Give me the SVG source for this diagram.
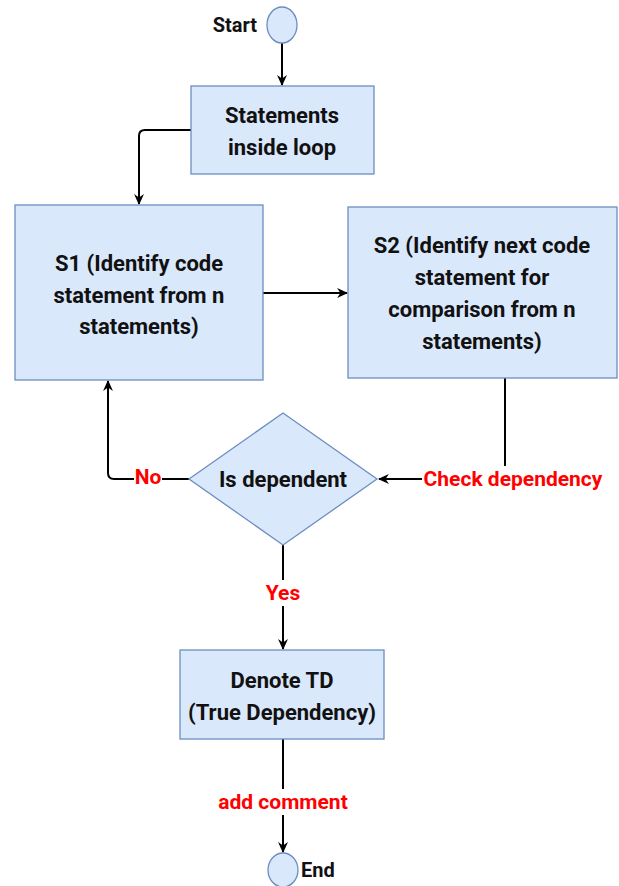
<svg xmlns="http://www.w3.org/2000/svg" width="619" height="886" viewBox="0 0 619 886">
  <style>
    .node { fill: #dae8fc; stroke: #6c8ebf; stroke-width: 1.3; }
    .txt { font-family: Roboto, "Liberation Sans", sans-serif; font-weight: 700; font-size: 22px; fill: #111; text-anchor: middle; dominant-baseline: central; }
    .lbl { font-family: Roboto, "Liberation Sans", sans-serif; font-weight: 700; font-size: 21px; fill: #ff0000; text-anchor: middle; dominant-baseline: central; }
    .edge { fill: none; stroke: #000; stroke-width: 2; }
    .bg { fill: #fff; }
  </style>
  <defs>
    <marker id="arrow" viewBox="0 0 10 10" refX="9" refY="5" markerWidth="11" markerHeight="11" orient="auto" markerUnits="userSpaceOnUse">
      <path d="M0,0.5 L10,5 L0,9.5 L3,5 z" fill="#000"/>
    </marker>
  </defs>

  <!-- connectors -->
  <g id="connectors">
    <path class="edge" d="M282,43 V85" marker-end="url(#arrow)"/>
    <path class="edge" d="M191,130 H145 Q139,130 139,136 V204" marker-end="url(#arrow)"/>
    <path class="edge" d="M263,293 H347" marker-end="url(#arrow)"/>
    <path class="edge" d="M505,378 V479 H379" marker-end="url(#arrow)"/>
    <path class="edge" d="M189,479 H114 Q108,479 108,473 V381" marker-end="url(#arrow)"/>
    <path class="edge" d="M283,545 V649" marker-end="url(#arrow)"/>
    <path class="edge" d="M283,739 V852" marker-end="url(#arrow)"/>
    <!-- edge labels -->
    <rect class="bg" x="422" y="466" width="184" height="26"/>
    <text class="lbl" x="513" y="479">Check dependency</text>
    <rect class="bg" x="134" y="466" width="28" height="26"/>
    <text class="lbl" x="148" y="477">No</text>
    <rect class="bg" x="264" y="580" width="38" height="26"/>
    <text class="lbl" x="283" y="593">Yes</text>
    <rect class="bg" x="214" y="789" width="138" height="26"/>
    <text class="lbl" x="283" y="802">add comment</text>
  </g>

  <g id="start">
    <ellipse class="node" cx="282" cy="25" rx="15" ry="18"/>
    <text class="txt" x="257" y="25" style="text-anchor:end;font-size:20px">Start</text>
  </g>

  <g id="statements">
    <rect class="node" x="191" y="86" width="183" height="88"/>
    <text class="txt" x="282" y="115">Statements</text>
    <text class="txt" x="282" y="147">inside loop</text>
  </g>

  <g id="s1">
    <rect class="node" x="15" y="205" width="248" height="175"/>
    <text class="txt" x="139" y="263">S1 (Identify code</text>
    <text class="txt" x="139" y="295">statement from n</text>
    <text class="txt" x="139" y="326">statements)</text>
  </g>

  <g id="s2">
    <rect class="node" x="348" y="207" width="269" height="171"/>
    <text class="txt" x="482" y="245">S2 (Identify next code</text>
    <text class="txt" x="482" y="277">statement for</text>
    <text class="txt" x="482" y="309">comparison from n</text>
    <text class="txt" x="482" y="341">statements)</text>
  </g>

  <g id="is-dependent">
    <polygon class="node" points="283,413 377,479 283,545 189,479"/>
    <text class="txt" x="283" y="479">Is dependent</text>
  </g>

  <g id="denote-td">
    <rect class="node" x="180" y="650" width="204" height="89"/>
    <text class="txt" x="282" y="680">Denote TD</text>
    <text class="txt" x="282" y="712">(True Dependency)</text>
  </g>

  <g id="end">
    <ellipse class="node" cx="283" cy="870" rx="15" ry="17"/>
    <text class="txt" x="301" y="870" style="text-anchor:start;font-size:20px">End</text>
  </g>
</svg>
